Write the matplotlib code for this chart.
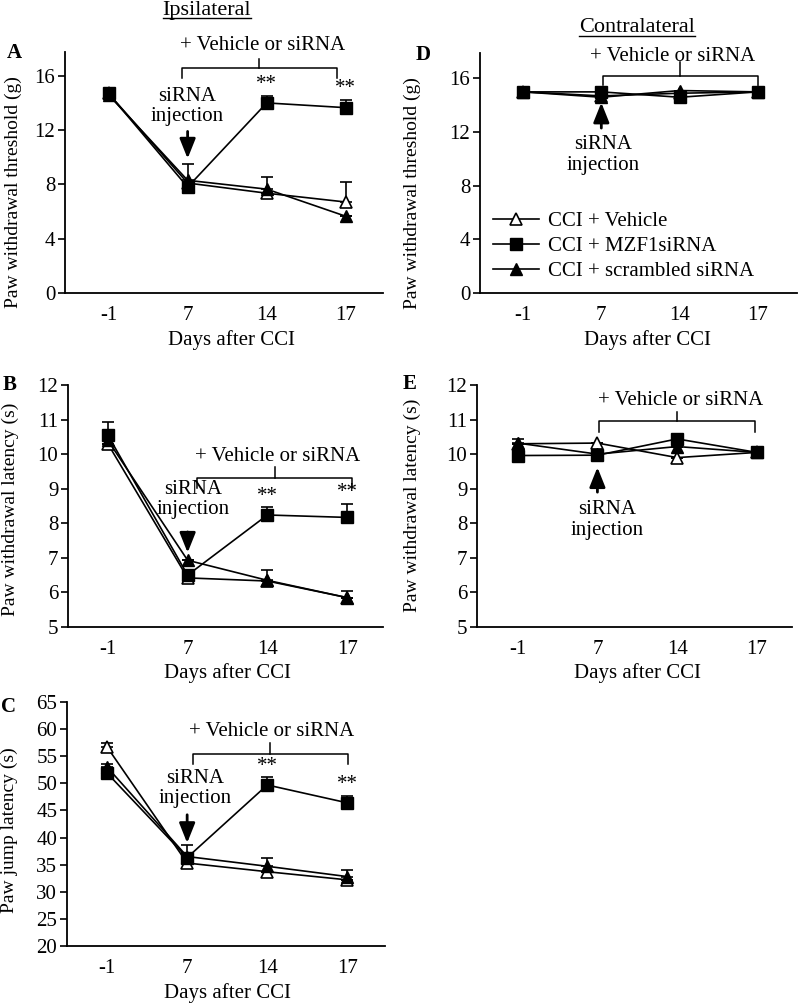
import matplotlib
matplotlib.use("Agg")
import matplotlib.pyplot as plt
from matplotlib.lines import Line2D
import numpy as np

plt.rcParams['font.family'] = ['Liberation Serif', 'DejaVu Serif']

days = ["-1", "7", "14", "17"]
labels = ["CCI + Vehicle", "CCI + MZF1siRNA", "CCI + scrambled siRNA"]

# Panel A: paw withdrawal threshold (g), ipsilateral
a_veh = [14.7, 8.1, 7.35, 6.7]
a_veh_err = [0, 0, 0, 1.5]
a_mzf = [14.7, 7.8, 14.0, 13.65]
a_mzf_err = [0, 0, 0.53, 0.58]
a_scr = [14.6, 8.3, 7.65, 5.65]
a_scr_err = [0, 1.2, 0.9, 0]

# Panel B: paw withdrawal latency (s), ipsilateral
b_veh = [10.3, 6.42, 6.33, 5.85]
b_veh_err = [0, 0, 0, 0]
b_mzf = [10.55, 6.5, 8.24, 8.17]
b_mzf_err = [0.38, 0, 0.22, 0.39]
b_scr = [10.4, 6.93, 6.35, 5.85]
b_scr_err = [0, 0, 0.3, 0.18]

# Panel C: paw jump latency (s), ipsilateral
c_veh = [56.7, 35.3, 33.7, 32.2]
c_veh_err = [0.8, 0, 0, 0]
c_mzf = [51.9, 36.3, 49.7, 46.4]
c_mzf_err = [0, 2.3, 1.4, 1.3]
c_scr = [53.0, 36.5, 34.7, 32.8]
c_scr_err = [0.6, 0, 1.6, 1.2]

# Panel D: paw withdrawal threshold (g), contralateral
d_veh = [15.0, 14.7, 14.9, 15.0]
d_veh_err = [0, 0, 0, 0]
d_mzf = [15.0, 15.0, 14.6, 15.0]
d_mzf_err = [0, 0, 0, 0]
d_scr = [15.0, 14.6, 15.1, 15.0]
d_scr_err = [0, 0, 0, 0]

# Panel E: paw withdrawal latency (s), contralateral
e_veh = [10.3, 10.32, 9.9, 10.05]
e_veh_err = [0, 0, 0, 0]
e_mzf = [9.96, 9.97, 10.44, 10.05]
e_mzf_err = [0, 0, 0.1, 0.15]
e_scr = [10.32, 10.0, 10.22, 10.05]
e_scr_err = [0.12, 0, 0, 0]

W, H = 800, 1005
fig = plt.figure(figsize=(W / 100, H / 100), dpi=100)


def make_ax(l, r, t, b):
    return fig.add_axes([l / W, 1 - b / H, (r - l) / W, (b - t) / H])


FS = 15
YFS = 14
x = np.arange(len(days))


def style(ax, xlim, ylim, yticks):
    ax.set_xlim(*xlim)
    ax.set_ylim(*ylim)
    ax.set_xticks(x)
    ax.set_xticklabels(days)
    ax.set_yticks(yticks)
    for s in ['top', 'right']:
        ax.spines[s].set_visible(False)
    for s in ['left', 'bottom']:
        ax.spines[s].set_linewidth(1.3)
    ax.tick_params(axis='y', direction='out', length=5, width=1.2, pad=2, labelsize=FS)
    ax.tick_params(axis='x', length=0, pad=9, labelsize=FS)


MK = dict(veh=dict(marker='^', mfc='white', mec='black', mew=1.2, ms=9),
          mzf=dict(marker='s', mfc='black', mec='black', ms=8.5),
          scr=dict(marker='^', mfc='black', mec='black', ms=9))


def series(ax, veh, vehe, mzf, mzfe, scr, scre):
    kw = dict(color='black', lw=1.2, capsize=4, elinewidth=1.2, capthick=1.2, clip_on=False)
    ax.errorbar(x, veh, yerr=[np.zeros(4), vehe], label=labels[0], zorder=3, **MK['veh'], **kw)
    ax.errorbar(x, scr, yerr=[np.zeros(4), scre], label=labels[2], zorder=3, **MK['scr'], **kw)
    ax.errorbar(x, mzf, yerr=[np.zeros(4), mzfe], label=labels[1], zorder=4, **MK['mzf'], **kw)


def bracket(ax, x0, x1, yh, ylow, xc, ytop, ytext, xtext):
    ax.plot([x0, x0, x1, x1], [ylow, yh, yh, ylow], color='black', lw=1.1, clip_on=False)
    ax.plot([xc, xc], [yh, ytop], color='black', lw=1.1, clip_on=False)
    ax.text(xtext, ytext, "+ Vehicle or siRNA", ha='center', va='center', fontsize=FS, clip_on=False)


def arrow(ax, xa, ytail, ytip):
    ax.annotate("", xy=(xa, ytip), xytext=(xa, ytail),
                arrowprops=dict(arrowstyle='-|>,head_length=0.75,head_width=0.3', color='black', lw=2.0,
                                shrinkA=0, shrinkB=0, mutation_scale=16))


def stars(ax, vals, errs):
    for i in (2, 3):
        ax.annotate("**", xy=(x[i], vals[i] + errs[i]), xytext=(0, 8), textcoords='offset points',
                    ha='center', va='center', fontsize=FS)


def ylab(text, xpix, ypix):
    fig.text(xpix / W, 1 - ypix / H, text, rotation=90, ha='center', va='center', fontsize=YFS)


def xlab(xpix, ypix):
    fig.text(xpix / W, 1 - ypix / H, "Days after CCI", ha='center', va='center', fontsize=FS)


def letter(t, xpix, ypix):
    fig.text(xpix / W, 1 - ypix / H, t, ha='center', va='center', fontsize=FS, fontweight='bold')


# ---------- Panel A ----------
axA = make_ax(65, 383, 52, 293)
series(axA, a_veh, a_veh_err, a_mzf, a_mzf_err, a_scr, a_scr_err)
style(axA, (-0.55, 3.47), (0, 17.75), [0, 4, 8, 12, 16])
bracket(axA, 0.93, 2.89, 16.6, 15.85, 1.9, 17.25, 18.2, 1.95)
axA.text(1.0, 13.75, "siRNA\ninjection", ha='center', va='center', fontsize=FS, linespacing=1.1)
arrow(axA, 1.0, 11.9, 9.9)
stars(axA, a_mzf, a_mzf_err)
ylab("Paw withdrawal threshold (g)", 13, 192)
xlab(232, 340)
letter("A", 14, 53)

# ---------- Panel D ----------
axD = make_ax(480, 797, 53, 293)
series(axD, d_veh, d_veh_err, d_mzf, d_mzf_err, d_scr, d_scr_err)
style(axD, (-0.55, 3.5), (0, 17.9), [0, 4, 8, 12, 16])
bracket(axD, 1.02, 3.0, 16.2, 15.5, 2.0, 17.2, 17.65, 1.91)
axD.text(1.02, 10.3, "siRNA\ninjection", ha='center', va='center', fontsize=FS, linespacing=1.1)
arrow(axD, 1.0, 12.3, 14.2)
ylab("Paw withdrawal threshold (g)", 412, 193)
xlab(647, 340)
letter("D", 423, 55)
handles = [Line2D([], [], color='black', lw=1.2, **MK[k]) for k in ('veh', 'mzf', 'scr')]
axD.legend(handles=handles, labels=labels, loc='lower left', bbox_to_anchor=(0.04, 0.05),
           frameon=False, fontsize=FS, handlelength=2.2, handletextpad=0.45, labelspacing=0.25,
           borderpad=0, borderaxespad=0)

# ---------- Panel B ----------
axB = make_ax(68, 383, 385, 627)
series(axB, b_veh, b_veh_err, b_mzf, b_mzf_err, b_scr, b_scr_err)
style(axB, (-0.5, 3.45), (5, 12), [5, 6, 7, 8, 9, 10, 11, 12])
bracket(axB, 1.12, 3.06, 9.31, 9.02, 2.1, 9.63, 9.92, 2.13)
axB.text(1.07, 8.68, "siRNA\ninjection", ha='center', va='center', fontsize=FS, linespacing=1.1)
arrow(axB, 1.0, 7.75, 7.15)
stars(axB, b_mzf, b_mzf_err)
ylab("Paw withdrawal latency (s)", 10, 509)
xlab(228, 673)
letter("B", 10, 385)

# ---------- Panel E ----------
axE = make_ax(477, 792, 385, 627)
series(axE, e_veh, e_veh_err, e_mzf, e_mzf_err, e_scr, e_scr_err)
style(axE, (-0.51, 3.44), (5, 12), [5, 6, 7, 8, 9, 10, 11, 12])
bracket(axE, 1.02, 2.98, 10.96, 10.64, 2.0, 11.22, 11.54, 2.04)
axE.text(1.12, 8.1, "siRNA\ninjection", ha='center', va='center', fontsize=FS, linespacing=1.1)
arrow(axE, 1.0, 8.9, 9.62)
ylab("Paw withdrawal latency (s)", 412, 505)
xlab(637, 673)
letter("E", 410, 384)

# ---------- Panel C ----------
axC = make_ax(67, 385, 702, 946)
series(axC, c_veh, c_veh_err, c_mzf, c_mzf_err, c_scr, c_scr_err)
style(axC, (-0.5, 3.47), (20, 65), [20, 25, 30, 35, 40, 45, 50, 55, 60, 65])
bracket(axC, 1.075, 3.01, 55.4, 53.6, 2.04, 57.4, 59.6, 2.06)
axC.text(1.1, 49.0, "siRNA\ninjection", ha='center', va='center', fontsize=FS, linespacing=1.1)
arrow(axC, 1.0, 44.2, 39.0)
stars(axC, c_mzf, c_mzf_err)
ylab("Paw jump latency (s)", 9, 830)
xlab(228, 993)
letter("C", 8, 707)

# ---------- Titles (underlined) ----------
tI = fig.text(207 / W, 1 - 10 / H, "Ipsilateral", ha='center', va='center', fontsize=16)
tC = fig.text(637 / W, 1 - 28 / H, "Contralateral", ha='center', va='center', fontsize=16)
fig.canvas.draw()
r = fig.canvas.get_renderer()
for t in (tI, tC):
    bb = t.get_window_extent(renderer=r)
    yline = bb.y0 + 1
    fig.add_artist(Line2D([bb.x0 / W, bb.x1 / W], [yline / H] * 2, color='black', lw=1.0,
                          transform=fig.transFigure))

fig.savefig("out.png", dpi=100)
